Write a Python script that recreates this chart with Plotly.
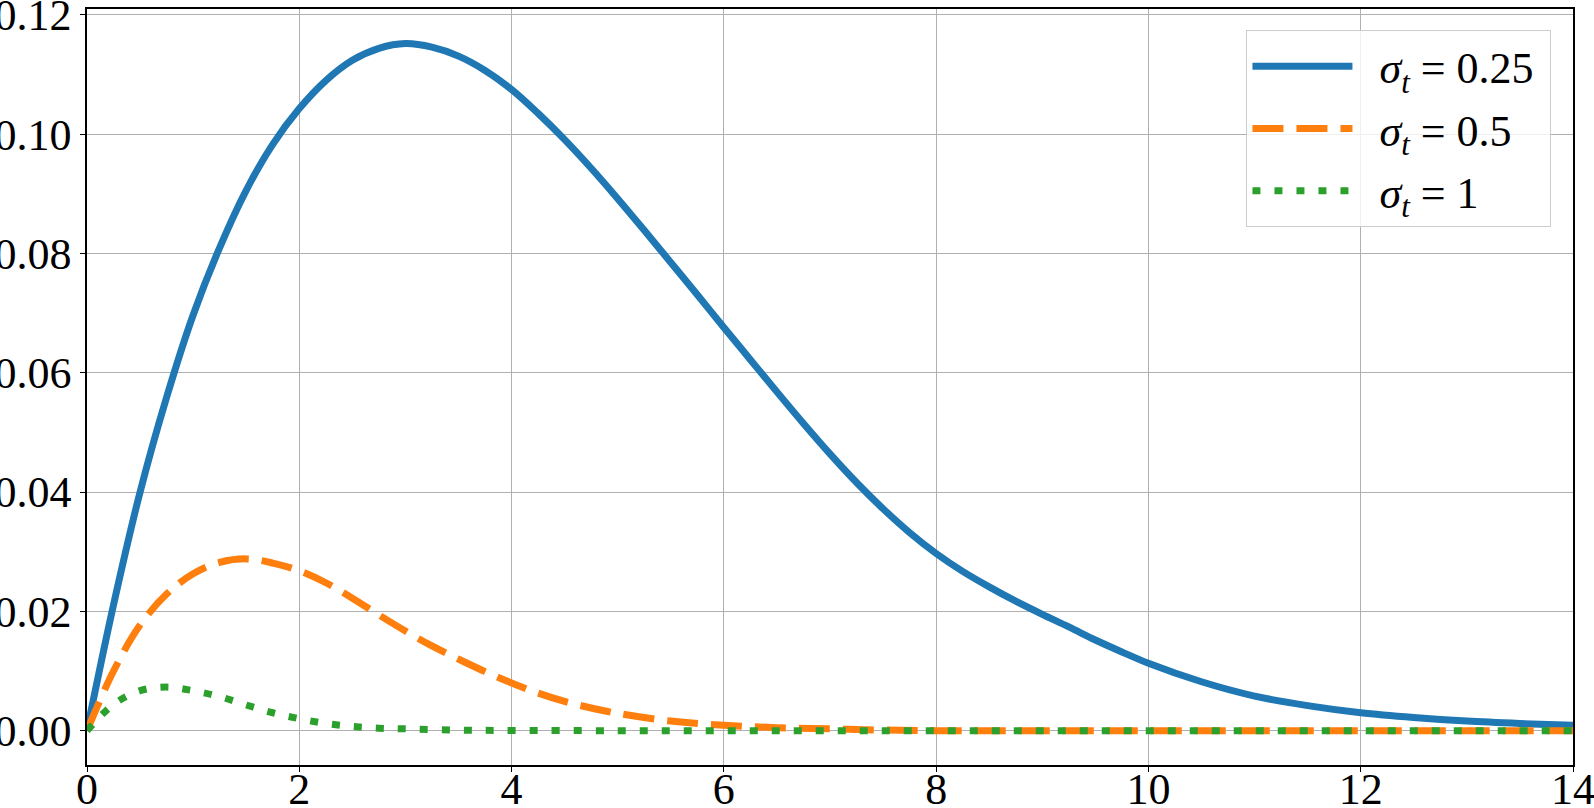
import plotly.graph_objects as go

# values
x_s025 = [0, 0.25, 0.5, 0.75, 1.0, 1.25, 1.5, 1.75, 2.0, 2.25, 2.5, 2.75, 3.0, 3.25, 3.5, 3.75,
          4.0, 4.25, 4.5, 4.75, 5.0, 5.25, 5.5, 5.75, 6.0, 6.25, 6.5, 6.75, 7.0, 7.25, 7.5,
          7.75, 8.0, 8.25, 8.5, 8.75, 9.0, 9.25, 9.5, 9.75, 10.0, 10.5, 11.0, 11.5, 12.0,
          12.5, 13.0, 13.5, 14.0]
y_s025 = [0, 0.0211, 0.0400, 0.0559, 0.0697, 0.0810, 0.0906, 0.0983, 0.1043, 0.1090, 0.1124,
          0.1144, 0.1152, 0.1146, 0.1131, 0.1107, 0.1075, 0.1035, 0.0991, 0.0943, 0.0892,
          0.0839, 0.0785, 0.0731, 0.0676, 0.0622, 0.0568, 0.0515, 0.0464, 0.0416, 0.0372,
          0.0332, 0.0297, 0.0267, 0.0241, 0.0217, 0.0195, 0.0174, 0.0152, 0.0132, 0.0113,
          0.0082, 0.0058, 0.0042, 0.0030, 0.0022, 0.0016, 0.0012, 0.0009]

x_s05 = [0, 0.25, 0.5, 0.75, 1.0, 1.25, 1.5, 1.75, 2.0, 2.25, 2.5, 2.75, 3.0, 3.25, 3.5, 3.75,
         4.0, 4.25, 4.5, 4.75, 5.0, 5.5, 6.0, 6.5, 7.0, 7.5, 8.0, 9.0, 10.0, 11.0, 12.0, 13.0,
         14.0]
y_s05 = [0, 0.0100, 0.0177, 0.0229, 0.0263, 0.0282, 0.0288, 0.0281, 0.0268, 0.0248, 0.0222,
         0.0194, 0.0167, 0.0142, 0.0120, 0.0099, 0.0080, 0.0063, 0.0049, 0.0038, 0.0029,
         0.0016, 0.0009, 0.0005, 0.0003, 0.0001, 0, 0, 0, 0, 0, 0, 0]

x_s1 = [0, 0.25, 0.5, 0.75, 1.0, 1.25, 1.5, 1.75, 2.0, 2.25, 2.5, 2.75, 3.0, 3.5, 4.0, 5.0,
        6.0, 7.0, 8.0, 9.0, 10.0, 11.0, 12.0, 13.0, 14.0]
y_s1 = [0, 0.0044, 0.0067, 0.0073, 0.0067, 0.0057, 0.0043, 0.0030, 0.0020, 0.0012, 0.0007,
        0.0004, 0.0003, 0.0001, 0.00003, 0, 0, 0, 0, 0, 0, 0, 0, 0, 0]

x_ticks = [0, 2, 4, 6, 8, 10, 12, 14]
y_ticks = [0.00, 0.02, 0.04, 0.06, 0.08, 0.10, 0.12]

font_family = "Liberation Serif, Times New Roman, serif"
gap = "&nbsp;&nbsp;"
tail = "&nbsp;"

fig = go.Figure()

fig.add_trace(go.Scatter(
    x=x_s025, y=y_s025, mode="lines", legendgroup="a",
    name=gap + "<i>σ</i><sub><i>t</i></sub> = 0.25" + tail,
    line=dict(color="#1f77b4", width=7, shape="spline", smoothing=1)
))
fig.add_trace(go.Scatter(
    x=x_s05, y=y_s05, mode="lines", legendgroup="b",
    name=gap + "<i>σ</i><sub><i>t</i></sub> = 0.5" + tail,
    line=dict(color="#ff7f0e", width=7, dash="31px,13px", shape="spline", smoothing=1)
))
fig.add_trace(go.Scatter(
    x=x_s1, y=y_s1, mode="lines", legendgroup="c",
    name=gap + "<i>σ</i><sub><i>t</i></sub> = 1" + tail,
    line=dict(color="#2ca02c", width=7, dash="8px,14px", shape="spline", smoothing=1)
))

axis_style = dict(
    showgrid=True, gridcolor="#b0b0b0", gridwidth=1,
    showline=True, linecolor="black", linewidth=1.5, mirror=True,
    ticks="outside", ticklen=5, tickwidth=1.3, tickcolor="black",
    zeroline=False, automargin=False, ticklabeloverflow="allow",
    tickfont=dict(family=font_family, size=44, color="black"),
)

fig.update_layout(
    width=1594,
    height=808,
    margin=dict(l=86.5, r=20.5, t=9.3, b=42.5),
    plot_bgcolor="white",
    paper_bgcolor="white",
    font=dict(family=font_family, color="black"),
    xaxis=dict(range=[0, 14], tickvals=x_ticks, ticktext=[str(v) for v in x_ticks],
               ticklabelstandoff=-21, **axis_style),
    yaxis=dict(range=[-0.00576, 0.1210], tickvals=y_ticks,
               ticktext=[f"{v:.2f}" for v in y_ticks], **axis_style),
    legend=dict(
        x=0.9855, y=0.972, xanchor="right", yanchor="top",
        bgcolor="rgba(255,255,255,0.8)", bordercolor="#cccccc", borderwidth=1,
        font=dict(family=font_family, size=44, color="black"),
        itemwidth=100, tracegroupgap=2,
    ),
    showlegend=True,
)

# drop the page's default body margin so the figure sits at the window corner
fig.write_html("out.html", config={"displayModeBar": False},
               post_script="document.body.style.margin='0';")
